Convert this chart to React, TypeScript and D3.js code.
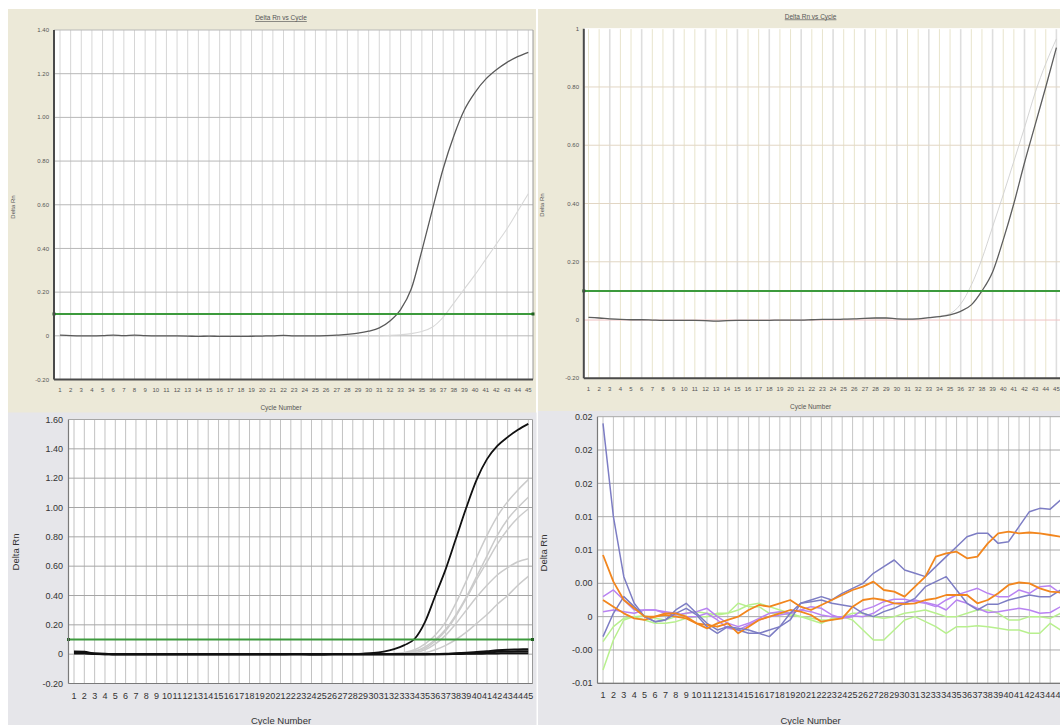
import React from 'react';
import * as d3 from 'd3';

// ---------- shared categories ----------
const cycles: number[] = d3.range(1, 46);
const cycleLabels: string[] = cycles.map((c) => String(c));
const thresholdValue = 0.1;

// ---------- Panel A (top-left) ----------
const aTitle = 'Delta Rn vs Cycle';
const aYTicks = [1.4, 1.2, 1.0, 0.8, 0.6, 0.4, 0.2, 0, -0.2];
const aYLabels = ['1.40', '1.20', '1.00', '0.80', '0.60', '0.40', '0.20', '0', '-0.20'];
const aDark = [
  0.003, 0.001, 0.0, 0.0, 0.001, 0.003, 0.001, 0.003, 0.001, 0.0,
  0.0, 0.0, -0.001, -0.003, -0.001, -0.003, -0.003, -0.003, -0.002, -0.001,
  0.0, 0.002, 0.0, 0.0, 0.0, 0.001, 0.003, 0.007, 0.012, 0.021,
  0.036, 0.068, 0.12, 0.214, 0.39, 0.58, 0.765, 0.915, 1.035, 1.115,
  1.175, 1.218, 1.252, 1.278, 1.298,
];
const aLight = [
  0.0, 0.0, 0.0, 0.0, 0.0, 0.0, 0.0, 0.0, 0.0, 0.0,
  0.0, 0.0, 0.0, 0.0, 0.0, 0.0, 0.0, 0.0, 0.0, 0.0,
  0.0, 0.0, 0.0, 0.0, 0.0, 0.0, 0.0, 0.0, 0.0, 0.0,
  0.0, 0.002, 0.005, 0.01, 0.02, 0.04, 0.085, 0.15, 0.215, 0.28,
  0.35, 0.42, 0.49, 0.57, 0.65,
];

// ---------- Panel B (top-right) ----------
const bTitle = 'Delta Rn vs Cycle';
const bYTicks = [1, 0.8, 0.6, 0.4, 0.2, 0, -0.2];
const bYLabels = ['1', '0.80', '0.60', '0.40', '0.20', '0', '-0.20'];
const bDark = [
  0.009, 0.007, 0.004, 0.002, 0.001, 0.001, 0.0, -0.001, -0.001, -0.001,
  -0.001, -0.002, -0.004, -0.002, -0.001, -0.001, -0.001, -0.001, 0.0, 0.0,
  0.0, 0.001, 0.002, 0.002, 0.003, 0.004, 0.006, 0.007, 0.007, 0.004,
  0.003, 0.004, 0.008, 0.012, 0.018, 0.03, 0.052, 0.1, 0.165, 0.275,
  0.4, 0.54, 0.67, 0.8, 0.935,
];
const bLight = [
  0.009, 0.007, 0.004, 0.002, 0.001, 0.001, 0.0, -0.001, -0.001, -0.001,
  -0.001, -0.002, -0.004, -0.002, -0.001, -0.001, -0.001, -0.001, 0.0, 0.0,
  0.0, 0.001, 0.002, 0.002, 0.003, 0.004, 0.006, 0.007, 0.007, 0.004,
  0.003, 0.005, 0.009, 0.013, 0.022, 0.055, 0.12, 0.21, 0.32, 0.43,
  0.545, 0.66, 0.78, 0.88, 0.965,
];

// ---------- Panel C (bottom-left) ----------
const cYTicks = [1.6, 1.4, 1.2, 1.0, 0.8, 0.6, 0.4, 0.2, 0, -0.2];
const cYLabels = ['1.60', '1.40', '1.20', '1.00', '0.80', '0.60', '0.40', '0.20', '0', '-0.20'];
const cBlack = [
  0.012, 0.01, 0.004, 0.002, -0.002, -0.002, -0.002, -0.002, -0.002, -0.002,
  -0.002, -0.002, -0.002, -0.002, -0.002, -0.002, -0.002, -0.002, -0.002, -0.002,
  -0.002, 0.0, 0.0, -0.003, -0.003, 0.0, 0.001, 0.002, 0.004, 0.008,
  0.018, 0.035, 0.062, 0.105, 0.22, 0.4, 0.58, 0.79, 1.0, 1.19,
  1.33, 1.42, 1.48, 1.53, 1.57,
];
const cFlat1 = [
  0.018, 0.016, 0.004, 0.002, 0.0, 0.0, 0.0, 0.0, 0.0, 0.0,
  0.0, 0.0, 0.0, 0.0, 0.0, 0.0, 0.0, 0.0, 0.0, 0.0,
  0.0, 0.0, 0.0, 0.0, 0.0, 0.0, 0.0, 0.0, 0.0, 0.0,
  0.0, 0.0, 0.0, 0.0, 0.0, 0.001, 0.002, 0.006, 0.01, 0.014,
  0.02, 0.026, 0.03, 0.032, 0.034,
];
const cFlat2 = [
  0.008, 0.008, 0.002, 0.0, 0.0, 0.0, 0.0, 0.0, 0.0, 0.0,
  0.0, 0.0, 0.0, 0.0, 0.0, 0.0, 0.0, 0.0, 0.0, 0.0,
  0.0, 0.0, 0.0, 0.0, 0.0, 0.0, 0.0, 0.0, 0.0, 0.0,
  0.0, 0.0, 0.0, 0.0, 0.0, 0.0, 0.001, 0.003, 0.006, 0.008,
  0.012, 0.016, 0.018, 0.02, 0.02,
];
const cFlat3 = [
  0.004, 0.004, 0.001, 0.0, 0.0, 0.0, 0.0, 0.0, 0.0, 0.0,
  0.0, 0.0, 0.0, 0.0, 0.0, 0.0, 0.0, 0.0, 0.0, 0.0,
  0.0, 0.0, 0.0, 0.0, 0.0, 0.0, 0.0, 0.0, 0.0, 0.0,
  0.0, 0.0, 0.0, 0.0, 0.0, 0.0, 0.0, 0.001, 0.002, 0.003,
  0.004, 0.005, 0.006, 0.006, 0.007,
];
const cGreyA = [
  0, 0, 0, 0, 0, 0, 0, 0, 0, 0, 0, 0, 0, 0, 0, 0, 0, 0, 0, 0,
  0, 0, 0, 0, 0, 0, 0, 0, 0, 0,
  0.002, 0.005, 0.012, 0.03, 0.07, 0.13, 0.22, 0.35, 0.5, 0.66,
  0.81, 0.94, 1.04, 1.12, 1.19,
];
const cGreyB = [
  0, 0, 0, 0, 0, 0, 0, 0, 0, 0, 0, 0, 0, 0, 0, 0, 0, 0, 0, 0,
  0, 0, 0, 0, 0, 0, 0, 0, 0, 0,
  0.001, 0.003, 0.006, 0.02, 0.05, 0.1, 0.17, 0.27, 0.39, 0.53,
  0.67, 0.81, 0.92, 1.0, 1.07,
];
const cGreyC = [
  0, 0, 0, 0, 0, 0, 0, 0, 0, 0, 0, 0, 0, 0, 0, 0, 0, 0, 0, 0,
  0, 0, 0, 0, 0, 0, 0, 0, 0, 0,
  0.0, 0.002, 0.005, 0.02, 0.04, 0.09, 0.16, 0.26, 0.38, 0.51,
  0.63, 0.75, 0.85, 0.93, 0.99,
];
const cGreyD = [
  0, 0, 0, 0, 0, 0, 0, 0, 0, 0, 0, 0, 0, 0, 0, 0, 0, 0, 0, 0,
  0, 0, 0, 0, 0, 0, 0, 0, 0, 0,
  0.0, 0.002, 0.004, 0.01, 0.03, 0.07, 0.13, 0.21, 0.3, 0.39,
  0.47, 0.54, 0.59, 0.63, 0.65,
];
const cGreyE = [
  0, 0, 0, 0, 0, 0, 0, 0, 0, 0, 0, 0, 0, 0, 0, 0, 0, 0, 0, 0,
  0, 0, 0, 0, 0, 0, 0, 0, 0, 0,
  0.0, 0.0, 0.002, 0.005, 0.01, 0.03, 0.06, 0.1, 0.15, 0.21,
  0.27, 0.34, 0.4, 0.47, 0.53,
];

// ---------- Panel D (bottom-right) ----------
const dYTicks = [0.024, 0.02, 0.016, 0.012, 0.008, 0.004, 0, -0.004, -0.008];
const dYLabels = ['0.02', '0.02', '0.02', '0.01', '0.01', '0.00', '0', '-0.00', '-0.01'];
const dBlue1 = [
  0.0232, 0.012, 0.0048, 0.0016, 0.0, -0.0006, -0.0004, 0.0004, 0.001, 0.0002,
  -0.0012, -0.002, -0.0012, -0.0014, -0.0016, -0.002, -0.0024, -0.0012, 0.0004, 0.0016,
  0.002, 0.0024, 0.002, 0.0028, 0.0034, 0.004, 0.0052, 0.006, 0.0068, 0.0056,
  0.0052, 0.0048, 0.006, 0.0072, 0.0084, 0.0096, 0.01, 0.01, 0.0088, 0.009,
  0.0108, 0.0126, 0.013, 0.0129, 0.014,
];
const dBlue2 = [
  -0.0024, 0.0004, 0.0024, 0.0012, 0.0, -0.0006, -0.0004, 0.0008, 0.0016, 0.0004,
  -0.0008, -0.0016, -0.0012, -0.0016, -0.002, -0.002, -0.0016, -0.0012, -0.0004, 0.0016,
  0.0018, 0.002, 0.0016, 0.0014, 0.0012, 0.0004, 0.0, 0.0006, 0.001, 0.0016,
  0.0022, 0.0036, 0.0042, 0.0048, 0.0032, 0.0016, 0.0008, 0.0015, 0.0015, 0.002,
  0.0023, 0.0026, 0.0024, 0.0024, 0.0032,
];
const dOrange1 = [
  0.0074, 0.0042, 0.002, 0.001, 0.0, 0.0, 0.0004, 0.0004, 0.0, -0.0008,
  -0.0014, -0.0008, -0.0004, 0.0, 0.0008, 0.0014, 0.0012, 0.0016, 0.002, 0.0012,
  0.0008, 0.0014, 0.002, 0.0026, 0.0032, 0.0036, 0.0042, 0.0032, 0.003, 0.0024,
  0.0036, 0.0048, 0.0072, 0.0076, 0.0078, 0.007, 0.0072, 0.0088, 0.01, 0.0102,
  0.01, 0.0101, 0.01, 0.0098, 0.0096,
];
const dOrange2 = [
  0.002, 0.0012, 0.0004, -0.0002, -0.0004, 0.0, 0.0002, 0.0, -0.0002, -0.0008,
  -0.001, -0.0012, -0.0008, -0.002, -0.0012, -0.0004, 0.0, 0.0004, 0.0008, 0.0006,
  0.0002, -0.0006, -0.0004, -0.0002, 0.0012, 0.002, 0.0022, 0.002, 0.0016, 0.0015,
  0.0016, 0.002, 0.0022, 0.0026, 0.0026, 0.0026, 0.0016, 0.002, 0.0028, 0.0038,
  0.0041, 0.004, 0.0034, 0.003, 0.0029,
];
const dViolet1 = [
  0.0024, 0.0032, 0.002, 0.0008, 0.0008, 0.0008, 0.0006, 0.0004, 0.0, 0.0,
  0.0004, -0.0004, -0.0014, -0.0016, -0.001, -0.0004, 0.0, 0.0002, 0.0004, 0.0008,
  0.0012, 0.001, 0.0002, -0.0002, 0.0, 0.0008, 0.0012, 0.0018, 0.0021, 0.0021,
  0.0018, 0.0016, 0.0012, 0.002, 0.0026, 0.003, 0.0034, 0.0028, 0.0024, 0.0024,
  0.0032, 0.0028, 0.0036, 0.0037, 0.0028,
];
const dViolet2 = [
  0.0006, 0.0008, 0.0006, 0.0004, 0.0008, 0.0008, 0.0004, 0.0002, 0.0004, 0.0006,
  0.001, 0.0, -0.0008, -0.0012, -0.0008, -0.0002, 0.0004, 0.0006, 0.0004, 0.0008,
  0.0006, 0.0002, 0.0, 0.0, 0.0001, 0.0, 0.0004, 0.0012, 0.0016, 0.0017,
  0.002, 0.0017, 0.0014, 0.0008, 0.002, 0.0016, 0.001, 0.0005, 0.0006, 0.0008,
  0.001, 0.0008, 0.0004, 0.0005, 0.0012,
];
const dGreen1 = [
  -0.003, -0.0012, -0.0002, 0.0, -0.0004, -0.0008, -0.0008, -0.0006, -0.0002, 0.0,
  0.0, 0.0004, 0.0004, 0.0016, 0.0012, 0.0012, 0.0004, 0.0004, 0.0002, 0.0,
  -0.0004, -0.0008, -0.0002, 0.0, -0.0004, -0.0016, -0.0028, -0.0028, -0.0016, -0.0004,
  0.0, -0.0006, -0.0012, -0.002, -0.0012, -0.0012, -0.0011, -0.0012, -0.0014, -0.0016,
  -0.0016, -0.002, -0.002, -0.0008, -0.0016,
];
const dGreen2 = [
  -0.0064, -0.0028, -0.0004, 0.0, 0.0001, -0.0002, -0.0004, 0.0, 0.0004, 0.0006,
  0.0004, 0.0002, 0.0004, 0.0008, 0.0014, 0.0016, 0.0012, 0.0008, 0.0004, 0.0,
  -0.0002, -0.0004, -0.0004, 0.0, 0.0004, 0.0004, 0.0, -0.0002, 0.0, 0.0004,
  0.0006, 0.0008, 0.0004, 0.0, 0.0, 0.0004, 0.0008, 0.0008, 0.0004, -0.0004,
  -0.0004, 0.0, 0.0, -0.0002, 0.0004,
];

// ---------- rendering ----------
type Series = { values: number[]; color: string; width: number; curve?: 'smooth' | 'linear' };
type Cfg = {
  id: string;
  bg: { x: number; y: number; w: number; h: number; fill: string };
  plot: { l: number; t: number; r: number; b: number };
  xRange: [number, number];
  yDomain: [number, number];
  yTicks: number[];
  yLabels: string[];
  vGridColor: (c: number) => string;
  vGridWidth: (c: number) => number;
  hGridColor: (v: number) => string;
  axisColor: string;
  axisWidth: number;
  font: number;
  textColor: string;
  yLabelRight: number;
  xLabelBaseline: number;
  title?: { text: string; x: number; y: number; size: number };
  xTitle: { x: number; y: number; size: number };
  yTitle: { x: number; y: number; size: number };
  series: Series[];
  threshold?: boolean;
  borderRight?: string;
};

const FONT = "'Liberation Sans', Arial, sans-serif";

function Panel({ cfg }: { cfg: Cfg }) {
  const { plot } = cfg;
  const x = d3.scaleLinear().domain([1, 45]).range(cfg.xRange);
  const y = d3.scaleLinear().domain(cfg.yDomain).range([plot.b, plot.t]);
  const mk = (s: Series) =>
    d3
      .line<number>()
      .x((_, i) => x(cycles[i]))
      .y((v) => y(v))
      .curve(s.curve === 'linear' ? d3.curveLinear : d3.curveMonotoneX)(s.values) || '';
  const clipId = 'clip-' + cfg.id;
  const ty = cfg.threshold ? y(thresholdValue) : 0;
  return (
    <g>
      <rect x={cfg.bg.x} y={cfg.bg.y} width={cfg.bg.w} height={cfg.bg.h} fill={cfg.bg.fill} />
      <defs>
        <clipPath id={clipId}>
          <rect x={plot.l} y={plot.t - 2} width={plot.r - plot.l} height={plot.b - plot.t + 4} />
        </clipPath>
      </defs>
      <rect x={plot.l} y={plot.t} width={plot.r - plot.l} height={plot.b - plot.t} fill="#ffffff" />
      {cycles.map((c) => (
        <line
          key={'v' + c}
          x1={x(c)}
          x2={x(c)}
          y1={plot.t}
          y2={plot.b}
          stroke={cfg.vGridColor(c)}
          strokeWidth={cfg.vGridWidth(c)}
        />
      ))}
      {cfg.yTicks.map((v, i) => (
        <line key={'h' + i} x1={plot.l} x2={plot.r} y1={y(v)} y2={y(v)} stroke={cfg.hGridColor(v)} strokeWidth={1} />
      ))}
      {cfg.borderRight && (
        <line x1={plot.r} x2={plot.r} y1={plot.t} y2={plot.b} stroke={cfg.borderRight} strokeWidth={1} />
      )}
      <g clipPath={`url(#${clipId})`}>
        {cfg.series.map((s, i) => (
          <path key={'s' + i} d={mk(s)} fill="none" stroke={s.color} strokeWidth={s.width} strokeLinejoin="round" />
        ))}
      </g>
      {cfg.threshold && (
        <g>
          <line x1={plot.l} x2={plot.r} y1={ty} y2={ty} stroke="#3c9a3c" strokeWidth={2} />
          <rect x={plot.l - 1.5} y={ty - 1.5} width={3} height={3} fill="#1f5f1f" />
          <rect x={plot.r - 1.5} y={ty - 1.5} width={3} height={3} fill="#1f5f1f" />
        </g>
      )}
      <line x1={plot.l} x2={plot.l} y1={plot.t} y2={plot.b} stroke={cfg.axisColor} strokeWidth={cfg.axisWidth} />
      <line x1={plot.l} x2={plot.r} y1={plot.b} y2={plot.b} stroke={cfg.axisColor} strokeWidth={cfg.axisWidth} />
      {cfg.yTicks.map((v, i) => (
        <text
          key={'yl' + i}
          x={cfg.yLabelRight}
          y={y(v)}
          dy="0.35em"
          textAnchor="end"
          fontSize={cfg.font}
          fill={cfg.textColor}
          fontFamily={FONT}
        >
          {cfg.yLabels[i]}
        </text>
      ))}
      {cycles.map((c, i) => (
        <text
          key={'xl' + c}
          x={x(c)}
          y={cfg.xLabelBaseline}
          textAnchor="middle"
          fontSize={cfg.font}
          fill={cfg.textColor}
          fontFamily={FONT}
        >
          {cycleLabels[i]}
        </text>
      ))}
      {cfg.title && (
        <text
          x={cfg.title.x}
          y={cfg.title.y}
          textAnchor="middle"
          fontSize={cfg.title.size}
          fill={cfg.textColor}
          fontFamily={FONT}
          textDecoration="underline"
        >
          {cfg.title.text}
        </text>
      )}
      <text
        x={cfg.xTitle.x}
        y={cfg.xTitle.y}
        textAnchor="middle"
        fontSize={cfg.xTitle.size}
        fill={cfg.textColor}
        fontFamily={FONT}
      >
        Cycle Number
      </text>
      <text
        transform={`translate(${cfg.yTitle.x},${cfg.yTitle.y}) rotate(-90)`}
        textAnchor="middle"
        dy="0.35em"
        fontSize={cfg.yTitle.size}
        fill={cfg.textColor}
        fontFamily={FONT}
      >
        Delta Rn
      </text>
    </g>
  );
}

const BEIGE = '#ECE9D8';
const GREYBG = '#E6E6EA';

const panelA: Cfg = {
  id: 'a',
  bg: { x: 8, y: 9, w: 528, h: 404, fill: BEIGE },
  plot: { l: 54, t: 30, r: 533, b: 379.5 },
  xRange: [60, 528.3],
  yDomain: [-0.2, 1.4],
  yTicks: aYTicks,
  yLabels: aYLabels,
  vGridColor: () => '#d6d6d6',
  vGridWidth: () => 1,
  hGridColor: () => '#b8b8b8',
  axisColor: '#4a4a4a',
  axisWidth: 2,
  font: 6,
  textColor: '#555',
  yLabelRight: 49,
  xLabelBaseline: 392,
  title: { text: aTitle, x: 281, y: 20, size: 6.5 },
  xTitle: { x: 281, y: 410, size: 6.5 },
  yTitle: { x: 13, y: 207, size: 6 },
  series: [
    { values: aLight, color: '#d8d8d8', width: 1.1 },
    { values: aDark, color: '#5a5a5a', width: 1.3 },
  ],
  threshold: true,
  borderRight: '#9a9a9a',
};

const panelB: Cfg = {
  id: 'b',
  bg: { x: 538, y: 9, w: 522, h: 402, fill: BEIGE },
  plot: { l: 583.8, t: 28.7, r: 1062, b: 378.3 },
  xRange: [588.5, 1056.4],
  yDomain: [-0.2, 1],
  yTicks: bYTicks,
  yLabels: bYLabels,
  vGridColor: (c) => (c % 3 === 0 ? '#dedede' : '#e8e4cc'),
  vGridWidth: (c) => (c % 3 === 0 ? 1.6 : 1),
  hGridColor: (v) => (v === 0 ? '#f0c4c4' : v === 1 ? '#ffffff' : '#e2d6c4'),
  axisColor: '#4a4a4a',
  axisWidth: 2,
  font: 6,
  textColor: '#555',
  yLabelRight: 579,
  xLabelBaseline: 390.5,
  title: { text: bTitle, x: 810.6, y: 18.5, size: 6.5 },
  xTitle: { x: 810.6, y: 409, size: 6.5 },
  yTitle: { x: 542, y: 205, size: 6 },
  series: [
    { values: bLight, color: '#cfcfcf', width: 0.9 },
    { values: bDark, color: '#5e5e5e', width: 1.3 },
  ],
  threshold: true,
};

const panelC: Cfg = {
  id: 'c',
  bg: { x: 8, y: 412.5, w: 528.5, h: 312.5, fill: GREYBG },
  plot: { l: 68.5, t: 419.5, r: 532.5, b: 683.5 },
  xRange: [74, 528.3],
  yDomain: [-0.2, 1.6],
  yTicks: cYTicks,
  yLabels: cYLabels,
  vGridColor: () => '#c2c2c2',
  vGridWidth: () => 1,
  hGridColor: () => '#a6a6a6',
  axisColor: '#7a7a7a',
  axisWidth: 1.2,
  font: 9,
  textColor: '#333',
  yLabelRight: 63,
  xLabelBaseline: 698.5,
  xTitle: { x: 281, y: 724, size: 9.5 },
  yTitle: { x: 15.5, y: 552, size: 9.5 },
  series: [
    { values: cGreyE, color: '#cbcbcb', width: 1.5 },
    { values: cGreyD, color: '#cbcbcb', width: 1.5 },
    { values: cGreyC, color: '#cbcbcb', width: 1.5 },
    { values: cGreyB, color: '#cbcbcb', width: 1.5 },
    { values: cGreyA, color: '#cbcbcb', width: 1.5 },
    { values: cFlat3, color: '#111', width: 2 },
    { values: cFlat2, color: '#111', width: 2 },
    { values: cFlat1, color: '#111', width: 2 },
    { values: cBlack, color: '#111', width: 1.8 },
  ],
  threshold: true,
  borderRight: '#9a9a9a',
};

const BLUE = '#7d7dc4';
const ORANGE = '#f2861e';
const VIOLET = '#b983f2';
const GREEN = '#b8f08e';

const panelD: Cfg = {
  id: 'd',
  bg: { x: 538, y: 411, w: 522, h: 314, fill: GREYBG },
  plot: { l: 597.5, t: 416.7, r: 1062, b: 683.3 },
  xRange: [603, 1060.6],
  yDomain: [-0.008, 0.024],
  yTicks: dYTicks,
  yLabels: dYLabels,
  vGridColor: () => '#c6c6c6',
  vGridWidth: () => 1,
  hGridColor: () => '#a8a8a8',
  axisColor: '#7a7a7a',
  axisWidth: 1.2,
  font: 9,
  textColor: '#333',
  yLabelRight: 592.5,
  xLabelBaseline: 698,
  xTitle: { x: 810.6, y: 724, size: 9.5 },
  yTitle: { x: 543.5, y: 553, size: 9.5 },
  series: [
    { values: dGreen2, color: GREEN, width: 1.5, curve: 'linear' },
    { values: dGreen1, color: GREEN, width: 1.5, curve: 'linear' },
    { values: dViolet2, color: VIOLET, width: 1.5, curve: 'linear' },
    { values: dViolet1, color: VIOLET, width: 1.5, curve: 'linear' },
    { values: dBlue2, color: BLUE, width: 1.5, curve: 'linear' },
    { values: dOrange2, color: ORANGE, width: 1.8, curve: 'linear' },
    { values: dBlue1, color: BLUE, width: 1.5, curve: 'linear' },
    { values: dOrange1, color: ORANGE, width: 1.8, curve: 'linear' },
  ],
};

export default function App() {
  return (
    <svg
      width={1060}
      height={725}
      viewBox="0 0 1060 725"
      style={{ position: 'absolute', left: 0, top: 0, display: 'block', background: '#ffffff' }}
    >
      <rect x={0} y={0} width={1060} height={725} fill="#ffffff" />
      <Panel cfg={panelA} />
      <Panel cfg={panelB} />
      <Panel cfg={panelC} />
      <Panel cfg={panelD} />
    </svg>
  );
}
